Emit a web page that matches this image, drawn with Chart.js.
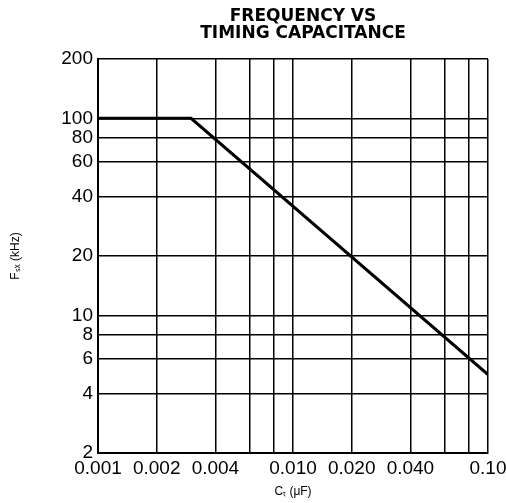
<!DOCTYPE html>
<html>
<head>
<meta charset="utf-8">
<script src="https://cdn.jsdelivr.net/npm/chart.js@4.4.0/dist/chart.umd.min.js"></script>
<style>
  html, body { margin: 0; padding: 0; background: #fff; }
  #wrap { width: 506px; height: 503px; }
</style>
</head>
<body>
<div id="wrap"><canvas id="freqChart" width="506" height="503"></canvas></div>
<script>
// curve points
var capValues = [0.001, 0.003, 0.1];     // Ct (uF)
var freqValues = [100, 100, 5];          // Fsx (kHz)

// grid lines and labels
var xGrid = [0.001, 0.002, 0.004, 0.006, 0.008, 0.01, 0.02, 0.04, 0.06, 0.08, 0.1];
var xTickLabels = ["0.001", "0.002", "0.004", "0.010", "0.020", "0.040", "0.10"];
var yGrid = [2, 4, 6, 8, 10, 20, 40, 60, 80, 100, 200];
var yTickLabels = ["2", "4", "6", "8", "10", "20", "40", "60", "80", "100", "200"];

var titleLines = ["FREQUENCY VS", "TIMING CAPACITANCE"];

function findLabel(list, v) {
  for (var i = 0; i < list.length; i++) {
    if (Math.abs(parseFloat(list[i]) - v) < v * 1e-6) return list[i];
  }
  return "";
}

// title drawn centred a little right of the plot, like the datasheet
var titlePlugin = {
  id: "sheetTitle",
  afterDraw: function (chart) {
    var ctx = chart.ctx;
    ctx.save();
    ctx.fillStyle = "#000";
    ctx.font = "bold 17px 'DejaVu Sans', sans-serif";
    ctx.textAlign = "center";
    ctx.textBaseline = "middle";
    ctx.fillText(titleLines[0], 303, 17);
    ctx.fillText(titleLines[1], 303, 34);
    ctx.restore();
  }
};

var ctx = document.getElementById("freqChart").getContext("2d");
var myChart = new Chart(ctx, {
  type: "line",
  data: {
    datasets: [
      {
        data: capValues.map(function (c, i) { return { x: c, y: freqValues[i] }; }),
        borderColor: "#000",
        borderWidth: 3,
        pointRadius: 0,
        fill: false,
        tension: 0
      }
    ]
  },
  options: {
    responsive: false,
    animation: false,
    layout: { padding: { top: 59, right: 18, left: 0, bottom: 0 } },
    plugins: {
      legend: { display: false },
      tooltip: { enabled: false }
    },
    scales: {
      x: {
        type: "logarithmic",
        min: 0.001,
        max: 0.1,
        afterBuildTicks: function (s) { s.ticks = xGrid.map(function (v) { return { value: v }; }); },
        afterFit: function (s) { s.height = 50; s.paddingLeft = 0; s.paddingRight = 0; },
        grid: { color: "#000", lineWidth: 1.5, drawTicks: false },
        border: { color: "#000", width: 2 },
        ticks: {
          autoSkip: false,
          maxRotation: 0,
          padding: 4,
          color: "#000",
          font: { family: "'Liberation Sans', Arial, sans-serif", size: 19 },
          callback: function (v) { return findLabel(xTickLabels, v); }
        },
        title: {
          display: true,
          text: "Cₜ (μF)",
          color: "#000",
          font: { family: "'Liberation Sans', Arial, sans-serif", size: 12 },
          padding: { top: 4, bottom: 4 }
        }
      },
      y: {
        type: "logarithmic",
        min: 2,
        max: 200,
        afterBuildTicks: function (s) { s.ticks = yGrid.map(function (v) { return { value: v }; }); },
        afterFit: function (s) { s.width = 98; },
        grid: { color: "#000", lineWidth: 1.5, drawTicks: false },
        border: { color: "#000", width: 2 },
        ticks: {
          autoSkip: false,
          padding: 5,
          color: "#000",
          font: { family: "'Liberation Sans', Arial, sans-serif", size: 19 },
          callback: function (v) { return findLabel(yTickLabels, v); }
        },
        title: {
          display: true,
          text: "Fₛₓ (kHz)",
          color: "#000",
          font: { family: "'Liberation Sans', Arial, sans-serif", size: 12 },
          padding: { top: 8, bottom: 0 }
        }
      }
    }
  },
  plugins: [titlePlugin]
});
</script>
</body>
</html>
